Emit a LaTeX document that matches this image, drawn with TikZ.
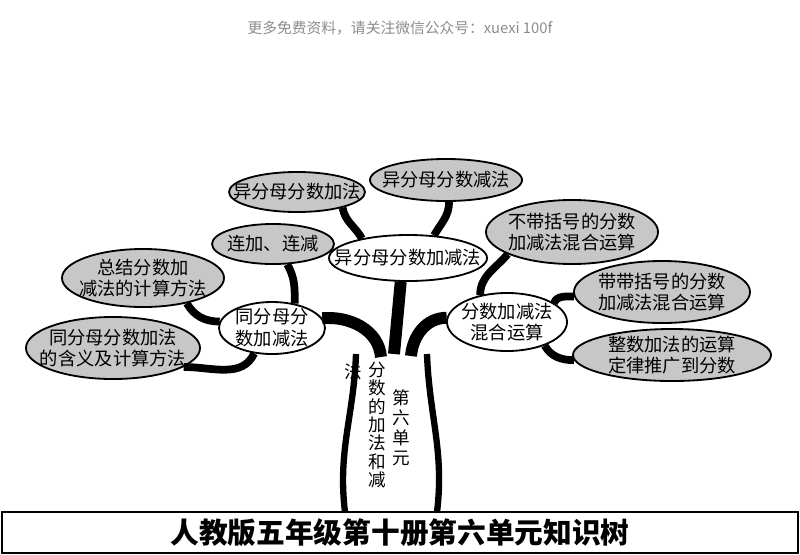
\documentclass[tikz,border=0pt]{standalone}
\usepackage{fontspec}
\setmainfont{Noto Sans CJK SC}
\usetikzlibrary{shapes.geometric}

\begin{document}
\begin{tikzpicture}[x=0.025cm,y=-0.025cm,
	leaf node/.style={ellipse, draw, line width=1.3pt, fill=black!22, inner sep=0pt},
	mid node/.style={leaf node, fill=white},
	every label/.style={align=center, font=\fontsize{13}{15.5}\selectfont},
	branch/.style={line width=5.5pt},
	trunk/.style={line width=8.5pt},
	stem/.style={line width=4.5pt}]
			\useasboundingbox (0,0) rectangle (800,554);
			% Nodes
			\node[mid node, minimum width=3.95cm, minimum height=1.15cm, label=center:{异分母分数加减法}] (1) at (408,258) {};
			\node[leaf node, minimum width=3.4cm, minimum height=1cm, label=center:{异分母分数加法}] (2) at (297,192) {};
			\node[leaf node, minimum width=3.8cm, minimum height=1.05cm, label=center:{异分母分数减法}] (3) at (446,180) {};
			\node[mid node, minimum width=2.65cm, minimum height=1.3cm, label=center:{同分母分\\数加减法}] (4) at (272,328) {};
			\node[leaf node, minimum width=3.05cm, minimum height=1cm, label=center:{连加、连减}] (5) at (273,244) {};
			\node[leaf node, minimum width=4.05cm, minimum height=1.45cm, label=center:{总结分数加\\减法的计算方法}] (6) at (143,278) {};
			\node[leaf node, minimum width=4.35cm, minimum height=1.55cm, label=center:{同分母分数加法\\的含义及计算方法}] (7) at (113,348) {};
			\node[mid node, minimum width=3cm, minimum height=1.45cm, label=center:{分数加减法\\混合运算}] (8) at (507,322) {};
			\node[leaf node, minimum width=4.3cm, minimum height=1.6cm, label=center:{不带括号的分数\\加减法混合运算}] (9) at (572,232) {};
			\node[leaf node, minimum width=4.4cm, minimum height=1.55cm, label=center:{带带括号的分数\\加减法混合运算}] (10) at (662,292) {};
			\node[leaf node, minimum width=4.95cm, minimum height=1.3cm, label=center:{整数加法的运算\\定律推广到分数}] (11) at (672,355) {};
			
			% trunk text
			\node[align=center, inner sep=0pt, font=\fontsize{12.5}{13}\selectfont] (12) at (377,425) {分\\数\\的\\加\\法\\和\\减};
			\node[inner sep=0pt, font=\fontsize{12.5}{13}\selectfont] (13) at (353,372) {法};
			\node[align=center, inner sep=0pt, font=\fontsize{12.5}{14.2}\selectfont] (14) at (401,428) {第\\六\\单\\元};
			
			\node[text=black!45, font=\fontsize{10.5}{12}\selectfont] (15) at (400,28) {更多免费资料，请关注微信公众号：xuexi 100f};
			\node[draw, line width=1.5pt, minimum width=19.9cm, minimum height=1.02cm, font=\fontsize{20.4}{24}\selectfont\bfseries] (16) at (400,532.5) {人教版五年级第十册第六单元知识树};
			
			\coordinate (c1) at (394,354);
			\coordinate (c2) at (381,357);
			\coordinate (c3) at (411,356);
			\coordinate (c4) at (356,354);
			\coordinate (c5) at (345,512);
			\coordinate (c6) at (427,354);
			\coordinate (c7) at (437,512);
			
			\path[branch]
			(2.-19) edge[out=-80, in=120] (1.157)
			(3.-82) edge[out=-90, in=60] (1.41)
			(5.-55) edge[out=-60, in=90] (4.47)
			(6.-30) edge[out=-60, in=180] (4.173)
			(4.-125) edge[out=-115, in=0] (7.-15)
			(9.-161) edge[out=-130, in=90] (8.135)
			(10.183) edge[out=180, in=70] (8.22)
			(8.-32) edge[out=-60, in=180] (11.183);
			
			\draw[trunk] (1.-107) -- (c1);
			\draw[trunk] (4.11) to[out=5, in=95] (c2);
			\draw[trunk] (8.176) to[out=180, in=85] (c3);
			\draw[stem] (c4) to[out=-92, in=97] (c5);
			\draw[stem] (c6) to[out=-88, in=83] (c7);
			
		\end{tikzpicture}
\end{document}
